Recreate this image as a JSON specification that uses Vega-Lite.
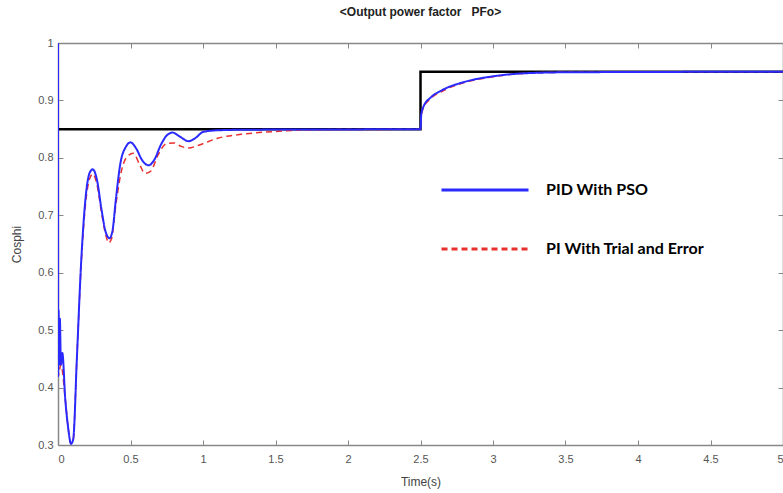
{
  "$schema": "https://vega.github.io/schema/vega-lite/v6.json",
  "width": 725,
  "height": 402,
  "autosize": {"type": "none"},
  "padding": {"left": 58, "top": 43, "right": 0, "bottom": 48},
  "background": "white",
  "title": {"text": "<Output power factor \u00a0 PFo>", "anchor": "middle", "frame": "group", "offset": 18, "fontSize": 12, "fontWeight": "bold", "font": "Liberation Sans", "color": "#222"},
  "config": {"view": {"stroke": null}},
  "datasets": {
    "steps": [
      {"t": 0, "v": 0.85, "k": 1},
      {"t": 2.5, "v": 0.85, "k": 2},
      {"t": 2.5, "v": 0.95, "k": 3},
      {"t": 5, "v": 0.95, "k": 4}
    ],
    "red": [
      {"s": "PI With Trial and Error", "t": 0, "v": 1.0, "k": 1},
      {"s": "PI With Trial and Error", "t": 0.001, "v": 0.42, "k": 2},
      {"s": "PI With Trial and Error", "t": 0.02, "v": 0.44, "k": 3},
      {"s": "PI With Trial and Error", "t": 0.05, "v": 0.38, "k": 4},
      {"s": "PI With Trial and Error", "t": 0.07, "v": 0.33, "k": 5},
      {"s": "PI With Trial and Error", "t": 0.09, "v": 0.302, "k": 6},
      {"s": "PI With Trial and Error", "t": 0.105, "v": 0.31, "k": 7},
      {"s": "PI With Trial and Error", "t": 0.13, "v": 0.45, "k": 8},
      {"s": "PI With Trial and Error", "t": 0.16, "v": 0.615, "k": 9},
      {"s": "PI With Trial and Error", "t": 0.19, "v": 0.72, "k": 10},
      {"s": "PI With Trial and Error", "t": 0.22, "v": 0.765, "k": 11},
      {"s": "PI With Trial and Error", "t": 0.24, "v": 0.772, "k": 12},
      {"s": "PI With Trial and Error", "t": 0.27, "v": 0.752, "k": 13},
      {"s": "PI With Trial and Error", "t": 0.3, "v": 0.705, "k": 14},
      {"s": "PI With Trial and Error", "t": 0.33, "v": 0.665, "k": 15},
      {"s": "PI With Trial and Error", "t": 0.35, "v": 0.652, "k": 16},
      {"s": "PI With Trial and Error", "t": 0.37, "v": 0.66, "k": 17},
      {"s": "PI With Trial and Error", "t": 0.4, "v": 0.72, "k": 18},
      {"s": "PI With Trial and Error", "t": 0.44, "v": 0.78, "k": 19},
      {"s": "PI With Trial and Error", "t": 0.48, "v": 0.803, "k": 20},
      {"s": "PI With Trial and Error", "t": 0.52, "v": 0.808, "k": 21},
      {"s": "PI With Trial and Error", "t": 0.56, "v": 0.79, "k": 22},
      {"s": "PI With Trial and Error", "t": 0.6, "v": 0.773, "k": 23},
      {"s": "PI With Trial and Error", "t": 0.64, "v": 0.777, "k": 24},
      {"s": "PI With Trial and Error", "t": 0.69, "v": 0.805, "k": 25},
      {"s": "PI With Trial and Error", "t": 0.75, "v": 0.825, "k": 26},
      {"s": "PI With Trial and Error", "t": 0.8, "v": 0.826, "k": 27},
      {"s": "PI With Trial and Error", "t": 0.85, "v": 0.82, "k": 28},
      {"s": "PI With Trial and Error", "t": 0.9, "v": 0.817, "k": 29},
      {"s": "PI With Trial and Error", "t": 0.97, "v": 0.822, "k": 30},
      {"s": "PI With Trial and Error", "t": 1.1, "v": 0.834, "k": 31},
      {"s": "PI With Trial and Error", "t": 1.3, "v": 0.842, "k": 32},
      {"s": "PI With Trial and Error", "t": 1.5, "v": 0.846, "k": 33},
      {"s": "PI With Trial and Error", "t": 1.8, "v": 0.849, "k": 34},
      {"s": "PI With Trial and Error", "t": 2.5, "v": 0.85, "k": 35},
      {"s": "PI With Trial and Error", "t": 2.505, "v": 0.872, "k": 36},
      {"s": "PI With Trial and Error", "t": 2.52, "v": 0.887, "k": 37},
      {"s": "PI With Trial and Error", "t": 2.57, "v": 0.903, "k": 38},
      {"s": "PI With Trial and Error", "t": 2.65, "v": 0.916, "k": 39},
      {"s": "PI With Trial and Error", "t": 2.8, "v": 0.931, "k": 40},
      {"s": "PI With Trial and Error", "t": 3.0, "v": 0.941, "k": 41},
      {"s": "PI With Trial and Error", "t": 3.2, "v": 0.947, "k": 42},
      {"s": "PI With Trial and Error", "t": 3.5, "v": 0.949, "k": 43},
      {"s": "PI With Trial and Error", "t": 5, "v": 0.95, "k": 44}
    ],
    "blue": [
      {"s": "PID With PSO", "t": 0, "v": 1.0, "k": 1},
      {"s": "PID With PSO", "t": 0.001, "v": 0.42, "k": 2},
      {"s": "PID With PSO", "t": 0.004, "v": 0.535, "k": 3},
      {"s": "PID With PSO", "t": 0.008, "v": 0.44, "k": 4},
      {"s": "PID With PSO", "t": 0.013, "v": 0.52, "k": 5},
      {"s": "PID With PSO", "t": 0.02, "v": 0.44, "k": 6},
      {"s": "PID With PSO", "t": 0.03, "v": 0.46, "k": 7},
      {"s": "PID With PSO", "t": 0.05, "v": 0.38, "k": 8},
      {"s": "PID With PSO", "t": 0.07, "v": 0.33, "k": 9},
      {"s": "PID With PSO", "t": 0.09, "v": 0.302, "k": 10},
      {"s": "PID With PSO", "t": 0.105, "v": 0.31, "k": 11},
      {"s": "PID With PSO", "t": 0.13, "v": 0.45, "k": 12},
      {"s": "PID With PSO", "t": 0.16, "v": 0.62, "k": 13},
      {"s": "PID With PSO", "t": 0.19, "v": 0.73, "k": 14},
      {"s": "PID With PSO", "t": 0.22, "v": 0.775, "k": 15},
      {"s": "PID With PSO", "t": 0.24, "v": 0.78, "k": 16},
      {"s": "PID With PSO", "t": 0.27, "v": 0.76, "k": 17},
      {"s": "PID With PSO", "t": 0.3, "v": 0.71, "k": 18},
      {"s": "PID With PSO", "t": 0.33, "v": 0.67, "k": 19},
      {"s": "PID With PSO", "t": 0.355, "v": 0.66, "k": 20},
      {"s": "PID With PSO", "t": 0.375, "v": 0.672, "k": 21},
      {"s": "PID With PSO", "t": 0.4, "v": 0.73, "k": 22},
      {"s": "PID With PSO", "t": 0.43, "v": 0.79, "k": 23},
      {"s": "PID With PSO", "t": 0.47, "v": 0.82, "k": 24},
      {"s": "PID With PSO", "t": 0.5, "v": 0.827, "k": 25},
      {"s": "PID With PSO", "t": 0.54, "v": 0.816, "k": 26},
      {"s": "PID With PSO", "t": 0.58, "v": 0.796, "k": 27},
      {"s": "PID With PSO", "t": 0.625, "v": 0.787, "k": 28},
      {"s": "PID With PSO", "t": 0.665, "v": 0.797, "k": 29},
      {"s": "PID With PSO", "t": 0.71, "v": 0.823, "k": 30},
      {"s": "PID With PSO", "t": 0.75, "v": 0.839, "k": 31},
      {"s": "PID With PSO", "t": 0.79, "v": 0.844, "k": 32},
      {"s": "PID With PSO", "t": 0.84, "v": 0.837, "k": 33},
      {"s": "PID With PSO", "t": 0.9, "v": 0.829, "k": 34},
      {"s": "PID With PSO", "t": 0.95, "v": 0.835, "k": 35},
      {"s": "PID With PSO", "t": 1.0, "v": 0.845, "k": 36},
      {"s": "PID With PSO", "t": 1.1, "v": 0.848, "k": 37},
      {"s": "PID With PSO", "t": 1.3, "v": 0.849, "k": 38},
      {"s": "PID With PSO", "t": 2.5, "v": 0.85, "k": 39},
      {"s": "PID With PSO", "t": 2.505, "v": 0.875, "k": 40},
      {"s": "PID With PSO", "t": 2.52, "v": 0.889, "k": 41},
      {"s": "PID With PSO", "t": 2.57, "v": 0.905, "k": 42},
      {"s": "PID With PSO", "t": 2.65, "v": 0.918, "k": 43},
      {"s": "PID With PSO", "t": 2.8, "v": 0.932, "k": 44},
      {"s": "PID With PSO", "t": 3.0, "v": 0.942, "k": 45},
      {"s": "PID With PSO", "t": 3.2, "v": 0.947, "k": 46},
      {"s": "PID With PSO", "t": 3.5, "v": 0.949, "k": 47},
      {"s": "PID With PSO", "t": 5, "v": 0.95, "k": 48}
    ]
  },
  "resolve": {"axis": {"x": "independent", "y": "independent"}},
  "layer": [
    {
      "data": {"name": "steps"},
      "mark": {"type": "line", "color": "black", "strokeWidth": 2.5, "clip": true},
      "encoding": {
        "x": {"field": "t", "type": "quantitative", "scale": {"domain": [0, 5], "nice": false},
          "axis": {"title": "Time(s)", "values": [0, 0.5, 1, 1.5, 2, 2.5, 3, 3.5, 4, 4.5, 5], "format": "~g", "grid": false, "domainColor": "#888", "domainWidth": 1.5, "tickColor": "#888", "tickSize": -5, "labelPadding": 13, "labelFont": "Liberation Sans", "labelFontSize": 11, "labelColor": "#555", "titleFont": "Liberation Sans", "titleFontSize": 12, "titleFontWeight": "normal", "titleColor": "#444", "titlePadding": 12}},
        "y": {"field": "v", "type": "quantitative", "scale": {"domain": [0.3, 1], "nice": false, "zero": false},
          "axis": {"title": "Cosphi", "values": [0.3, 0.4, 0.5, 0.6, 0.7, 0.8, 0.9, 1], "format": "~g", "grid": false, "domainColor": "#888", "domainWidth": 1.5, "tickColor": "#888", "tickSize": -5, "labelPadding": 10, "labelFont": "Liberation Sans", "labelFontSize": 11, "labelColor": "#555", "titleFont": "Liberation Sans", "titleFontSize": 12, "titleFontWeight": "normal", "titleColor": "#444", "titlePadding": 14}},
        "order": {"field": "k", "type": "quantitative"}
      }
    },
    {
      "data": {"name": "red"},
      "mark": {"type": "line", "strokeWidth": 1.5, "interpolate": "monotone", "clip": true},
      "encoding": {
        "x": {"field": "t", "type": "quantitative",
          "axis": {"orient": "top", "title": null, "labels": false, "values": [0, 0.5, 1, 1.5, 2, 2.5, 3, 3.5, 4, 4.5, 5], "grid": false, "domainColor": "#888", "domainWidth": 1.5, "tickColor": "#888", "tickSize": -5}},
        "y": {"field": "v", "type": "quantitative",
          "axis": {"orient": "right", "title": null, "labels": false, "values": [0.3, 0.4, 0.5, 0.6, 0.7, 0.8, 0.9, 1], "grid": false, "domainColor": "#888", "domainWidth": 1.5, "tickColor": "#888", "tickSize": -5}},
        "order": {"field": "k", "type": "quantitative"},
        "color": {"field": "s", "type": "nominal", "title": null,
          "scale": {"domain": ["PID With PSO", "PI With Trial and Error"], "range": ["#2a2aff", "#e8312f"]},
          "legend": {"orient": "none", "legendX": 382, "legendY": 102, "symbolType": "stroke", "symbolSize": 7569, "symbolStrokeWidth": 3, "labelFont": "Lato", "labelFontSize": 16, "labelFontWeight": "bold", "labelColor": "black", "labelOffset": 16, "rowPadding": 6}},
        "strokeDash": {"field": "s", "type": "nominal", "title": null,
          "scale": {"domain": ["PID With PSO", "PI With Trial and Error"], "range": [[1, 0], [6, 4]]}}
      }
    },
    {
      "data": {"name": "blue"},
      "mark": {"type": "line", "strokeWidth": 2, "interpolate": "monotone", "clip": true},
      "encoding": {
        "x": {"field": "t", "type": "quantitative", "axis": null},
        "y": {"field": "v", "type": "quantitative", "axis": null},
        "order": {"field": "k", "type": "quantitative"},
        "color": {"field": "s", "type": "nominal", "title": null},
        "strokeDash": {"field": "s", "type": "nominal", "title": null}
      }
    }
  ]
}
